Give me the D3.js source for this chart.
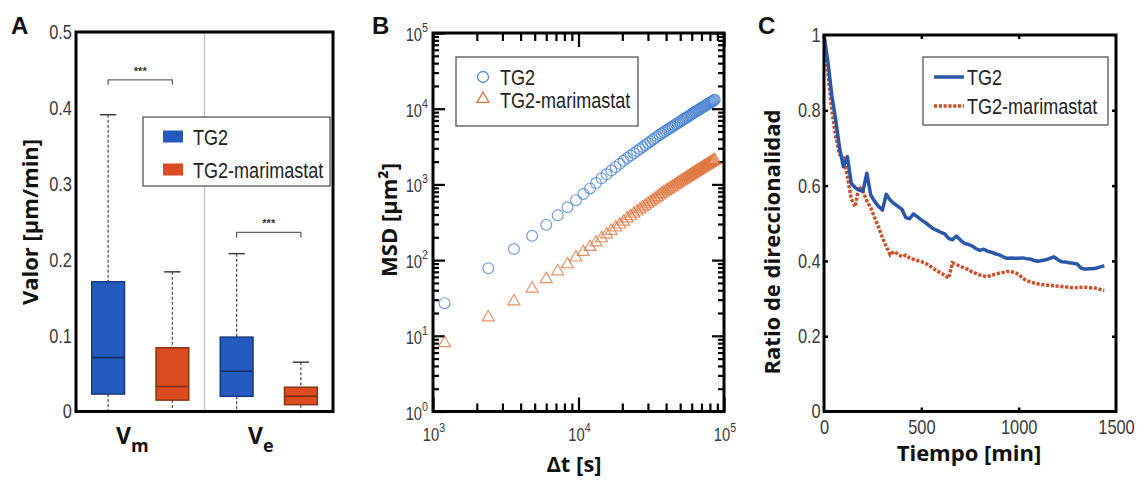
<!DOCTYPE html>
<html>
<head>
<meta charset="utf-8">
<script src="https://cdn.jsdelivr.net/npm/d3@7"></script>
<style>
  html, body { margin: 0; padding: 0; background: #fff; }
  svg { display: block; }
  .tick-label { font-family: 'Liberation Sans', Arial, sans-serif; font-size: 20px; fill: #3a3a3a; }
  .tick-label-log { font-family: 'Liberation Sans', Arial, sans-serif; font-size: 18px; fill: #3a3a3a; }
  .legend-text { font-family: 'Liberation Sans', Arial, sans-serif; font-size: 22px; fill: #222; }
  .axis-title { font-family: 'Open Sans', sans-serif; font-weight: 700; font-size: 22px; fill: #111; }
  .panel-letter { font-family: 'Liberation Sans', Arial, sans-serif; font-weight: 700; font-size: 24px; fill: #111; }
</style>
</head>
<body>
<svg id="fig" width="1138" height="482"></svg>
<script>
// ---------- Panel A: speed box plots ----------
const boxCategories = ["Vm", "Ve"];
const boxGroups = ["TG2", "TG2-marimastat"];
// order: Vm/TG2, Vm/TG2-marimastat, Ve/TG2, Ve/TG2-marimastat
const whiskerLow  = [0.000, 0.000, 0.000, 0.000];
const quartile1   = [0.023, 0.015, 0.020, 0.009];
const medians     = [0.071, 0.033, 0.053, 0.020];
const quartile3   = [0.171, 0.084, 0.098, 0.032];
const whiskerHigh = [0.391, 0.184, 0.208, 0.065];
const sigLevels = [0.437, 0.236];
const sigLabels = ["***", "***"];
const speedTicks = [0, 0.1, 0.2, 0.3, 0.4, 0.5];
const speedTickLabels = ["0", "0.1", "0.2", "0.3", "0.4", "0.5"];

// ---------- Panel B: mean squared displacement ----------
const msdLag = [1200,2400,3600,4800,6000,7200,8400,9600,10800,12000,13200,14400,15600,16800,18000,19200,20400,21600,
  22800,24000,25200,26400,27600,28800,30000,31200,32400,33600,34800,36000,37200,38400,39600,40800,42000,43200,
  44400,45600,46800,48000,49200,50400,51600,52800,54000,55200,56400,57600,58800,60000,61200,62400,63600,64800,
  66000,67200,68400,69600,70800,72000,73200,74400,75600,76800,78000,79200,80400,81600,82800,84000,85200,86400];
const msdTG2 = [27,78,140,209,292,391,500,619,748,885,1040,1203,1359,1522,1691,1867,2048,2234,2405,2581,
  2759,2941,3126,3313,3504,3697,3893,4092,4294,4500,4687,4875,5065,5256,5448,5641,5836,6032,6230,6430,
  6630,6830,7032,7236,7440,7645,7852,8060,8268,8478,8700,8904,9107,9313,9518,9724,9931,10139,10347,10556,
  10768,10976,11190,11399,11613,11823,12037,12250,12466,12682,12898,13100];
const msdMarimastat = [8,17.5,28.5,42,56,71,88,108,128,149,171,194,218,243,269,295,322,355,382,410,
  438,466,496,525,555,585,616,648,679,715,750,780,810,841,872,903,934,966,997,1029,
  1061,1093,1125,1158,1190,1223,1256,1290,1323,1356,1390,1423,1455,1488,1521,1554,1587,1620,1653,1686,
  1720,1754,1788,1821,1855,1889,1923,1957,1992,2026,2061,2095];
const lagMajorTicks = [1e3, 1e4, 1e5];
const lagExponents = ["3", "4", "5"];
const msdMajorTicks = [1e0, 1e1, 1e2, 1e3, 1e4, 1e5];
const msdExponents = ["0", "1", "2", "3", "4", "5"];

// ---------- Panel C: directionality ratio ----------
const timeMin = [0,20,40,60,80,100,120,140,160,180,200,220,240,260,280,300,320,340,360,380,400,420,440,460,480,
  500,520,540,560,580,600,620,640,660,680,700,720,740,760,780,800,820,840,860,880,900,920,940,960,980,1000,
  1020,1040,1060,1080,1100,1120,1140,1160,1180,1200,1220,1240,1260,1280,1300,1320,1340,1360,1380,1400,1420,1440];
const ratioTG2 = [1.000,0.930,0.840,0.775,0.700,0.650,0.677,0.606,0.595,0.588,
  0.585,0.633,0.575,0.558,0.545,0.535,0.577,0.562,0.552,0.545,
  0.537,0.515,0.512,0.525,0.517,0.509,0.502,0.494,0.486,0.481,
  0.476,0.472,0.460,0.456,0.466,0.456,0.447,0.444,0.440,0.433,
  0.428,0.431,0.426,0.423,0.419,0.416,0.411,0.407,0.408,0.407,
  0.407,0.408,0.406,0.405,0.401,0.399,0.401,0.403,0.407,0.411,
  0.404,0.398,0.397,0.395,0.394,0.392,0.381,0.378,0.379,0.379,
  0.381,0.384,0.387];
const ratioMarimastat = [1.000,0.900,0.800,0.730,0.683,0.675,0.625,0.565,0.544,0.597,
  0.585,0.560,0.541,0.515,0.490,0.462,0.438,0.416,0.425,0.418,
  0.411,0.415,0.408,0.404,0.401,0.398,0.394,0.388,0.380,0.374,
  0.368,0.362,0.354,0.395,0.390,0.386,0.381,0.377,0.371,0.367,
  0.363,0.360,0.358,0.362,0.365,0.367,0.369,0.372,0.372,0.369,
  0.364,0.354,0.348,0.344,0.341,0.339,0.337,0.336,0.335,0.334,
  0.333,0.332,0.331,0.330,0.328,0.329,0.330,0.330,0.329,0.329,
  0.327,0.324,0.321];
const timeTicks = [0, 500, 1000, 1500];
const timeTickLabels = ["0", "500", "1000", "1500"];
const ratioTicks = [0, 0.2, 0.4, 0.6, 0.8, 1];
const ratioTickLabels = ["0", "0.2", "0.4", "0.6", "0.8", "1"];

const seriesNames = ["TG2", "TG2-marimastat"];

const colors = {
  boxBlue: "#2459c0", boxBlueEdge: "#17387a",
  boxOrange: "#db4b1f", boxOrangeEdge: "#8a3413",
  markBlue: "#4d86d2", markOrange: "#e0763f",
  lineBlue: "#2b57aa", lineOrange: "#c9522b"
};

// horizontal squeeze that gives the condensed look of the labels
const SQUEEZE = 0.82;

const svg = d3.select("#fig");

function frame(g, box) {
  g.append("rect")
    .attr("x", box.left).attr("y", box.top)
    .attr("width", box.right - box.left).attr("height", box.bottom - box.top)
    .attr("fill", "none").attr("stroke", "#000").attr("stroke-width", 3);
}

// condensed text anchored at (x, y)
function narrowText(parent, x, y, cls, anchor) {
  return parent.append("text").attr("class", cls)
    .attr("transform", `translate(${x},${y}) scale(${SQUEEZE},1)`)
    .attr("text-anchor", anchor || "start");
}

// squeeze the labels that a d3 axis produced
function squeezeAxisText(axisG) {
  axisG.selectAll("text").attr("class", "tick-label").attr("fill", null)
    .attr("transform", `scale(${SQUEEZE},1)`);
}

// ================= Panel A =================
(function () {
  const box = { left: 76, right: 333, top: 32, bottom: 411.5 };
  const g = svg.append("g");
  const y = d3.scaleLinear().domain([0, 0.5]).range([box.bottom, box.top]);
  const xCat = d3.scaleBand().domain(boxCategories).range([box.left, box.right]);
  const xGrp = d3.scaleBand().domain(boxGroups).range([0, xCat.bandwidth()])
    .paddingInner(0.49).paddingOuter(0.245);

  // divider between the two speed categories
  g.append("line")
    .attr("x1", xCat("Ve")).attr("x2", xCat("Ve"))
    .attr("y1", box.top).attr("y2", box.bottom)
    .attr("stroke", "#c9c9c9").attr("stroke-width", 1.5);

  const stats = boxCategories.flatMap((c, ci) => boxGroups.map((s, si) => {
    const i = ci * 2 + si;
    return { cat: c, grp: s, lo: whiskerLow[i], q1: quartile1[i], med: medians[i], q3: quartile3[i], hi: whiskerHigh[i] };
  }));

  const bw = xGrp.bandwidth();
  const item = g.selectAll("g.box").data(stats).join("g").attr("class", "box")
    .attr("transform", d => `translate(${xCat(d.cat) + xGrp(d.grp)},0)`);

  // whiskers
  item.append("line").attr("x1", bw / 2).attr("x2", bw / 2)
    .attr("y1", d => y(d.hi)).attr("y2", d => y(d.q3))
    .attr("stroke", "#555").attr("stroke-width", 1.3).attr("stroke-dasharray", "3,2");
  item.append("line").attr("x1", bw / 2).attr("x2", bw / 2)
    .attr("y1", d => y(d.q1)).attr("y2", d => y(d.lo))
    .attr("stroke", "#555").attr("stroke-width", 1.3).attr("stroke-dasharray", "3,2");
  item.append("line").attr("x1", bw / 4).attr("x2", bw * 3 / 4)
    .attr("y1", d => y(d.hi)).attr("y2", d => y(d.hi))
    .attr("stroke", "#333").attr("stroke-width", 1.4);
  item.append("line").attr("x1", bw / 4).attr("x2", bw * 3 / 4)
    .attr("y1", d => y(d.lo)).attr("y2", d => y(d.lo))
    .attr("stroke", "#333").attr("stroke-width", 1.4);

  // boxes and medians
  item.append("rect").attr("x", 0).attr("width", bw)
    .attr("y", d => y(d.q3)).attr("height", d => y(d.q1) - y(d.q3))
    .attr("fill", d => d.grp === "TG2" ? colors.boxBlue : colors.boxOrange)
    .attr("stroke", d => d.grp === "TG2" ? colors.boxBlueEdge : colors.boxOrangeEdge)
    .attr("stroke-width", 1.5);
  item.append("line").attr("x1", 0).attr("x2", bw)
    .attr("y1", d => y(d.med)).attr("y2", d => y(d.med))
    .attr("stroke", d => d.grp === "TG2" ? "#132c5e" : "#7a2a0e").attr("stroke-width", 1.6);

  // significance brackets
  boxCategories.forEach((c, ci) => {
    const x1 = xCat(c) + xGrp(boxGroups[0]) + bw / 2;
    const x2 = xCat(c) + xGrp(boxGroups[1]) + bw / 2;
    const yy = y(sigLevels[ci]);
    g.append("path")
      .attr("d", `M${x1},${yy + 5}V${yy}H${x2}V${yy + 5}`)
      .attr("fill", "none").attr("stroke", "#666").attr("stroke-width", 1.3);
    g.append("text").attr("x", (x1 + x2) / 2).attr("y", yy - 5)
      .attr("text-anchor", "middle")
      .style("font-family", "'Liberation Sans', Arial, sans-serif")
      .style("font-size", "11px").style("font-weight", "700").style("fill", "#333")
      .text(sigLabels[ci]);
  });

  // y axis
  const ax = g.append("g").attr("transform", `translate(${box.left},0)`)
    .call(d3.axisLeft(y).tickValues(speedTicks).tickSize(0).tickPadding(5)
      .tickFormat((d, i) => speedTickLabels[i]));
  ax.select(".domain").remove();
  squeezeAxisText(ax);

  frame(g, box);

  // category labels with subscripts
  const subs = { Vm: "m", Ve: "e" };
  boxCategories.forEach(c => {
    const t = g.append("text").attr("class", "axis-title")
      .attr("x", xCat(c) + xCat.bandwidth() / 2 - 8).attr("y", 444)
      .attr("text-anchor", "middle");
    t.append("tspan").style("font-size", "23px").text("V");
    t.append("tspan").attr("dy", 8).style("font-size", "18px").text(subs[c]);
  });

  // legend
  const lg = g.append("g");
  lg.append("rect").attr("x", 143).attr("y", 117).attr("width", 187).attr("height", 69)
    .attr("fill", "#fff").attr("stroke", "#555").attr("stroke-width", 1.3);
  seriesNames.forEach((s, i) => {
    const cy = 136.5 + i * 33;
    lg.append("rect").attr("x", 163).attr("y", cy - 6).attr("width", 20).attr("height", 12)
      .attr("fill", i === 0 ? colors.boxBlue : colors.boxOrange);
    narrowText(lg, 193, cy + 8, "legend-text").text(s);
  });

  g.append("text").attr("class", "axis-title").attr("transform", "translate(29,222) rotate(-90)")
    .attr("text-anchor", "middle").attr("dominant-baseline", "central").text("Valor [µm/min]");
  g.append("text").attr("class", "panel-letter").attr("x", 11).attr("y", 34).text("A");
})();

// ================= Panel B =================
(function () {
  const box = { left: 433, right: 724, top: 33, bottom: 411.5 };
  const g = svg.append("g");
  const x = d3.scaleLog().domain([1e3, 1e5]).range([box.left, box.right]);
  const y = d3.scaleLog().domain([1e0, 1e5]).range([box.bottom, box.top]);

  const minor = (lo, hi) => {
    const out = [];
    for (let e = lo; e < hi; e++) for (let m = 2; m <= 9; m++) out.push(m * Math.pow(10, e));
    return out;
  };
  const xMinor = minor(3, 5), yMinor = minor(0, 5);

  const tickAxis = (axisFn, scale, values, len, transform) => {
    const a = g.append("g").attr("transform", transform)
      .call(axisFn(scale).tickValues(values).tickSizeInner(-len).tickSizeOuter(0).tickFormat(""));
    a.select(".domain").remove();
    a.selectAll("line").attr("stroke", "#000").attr("stroke-width", 2.2);
  };
  tickAxis(d3.axisBottom, x, lagMajorTicks, 14, `translate(0,${box.bottom})`);
  tickAxis(d3.axisBottom, x, xMinor, 8, `translate(0,${box.bottom})`);
  tickAxis(d3.axisTop, x, lagMajorTicks, 14, `translate(0,${box.top})`);
  tickAxis(d3.axisTop, x, xMinor, 8, `translate(0,${box.top})`);
  tickAxis(d3.axisLeft, y, msdMajorTicks, 12, `translate(${box.left},0)`);
  tickAxis(d3.axisLeft, y, yMinor, 6, `translate(${box.left},0)`);
  tickAxis(d3.axisRight, y, msdMajorTicks, 12, `translate(${box.right},0)`);
  tickAxis(d3.axisRight, y, yMinor, 6, `translate(${box.right},0)`);

  // power-of-ten labels
  lagMajorTicks.forEach((v, i) => {
    const t = narrowText(g, x(v) + 1, 441, "tick-label-log", "middle");
    t.append("tspan").text("10");
    t.append("tspan").attr("dy", -9).style("font-size", "13px").text(lagExponents[i]);
  });
  msdMajorTicks.forEach((v, i) => {
    const t = narrowText(g, box.left - 5, y(v) + 8, "tick-label-log", "end");
    t.append("tspan").text("10");
    t.append("tspan").attr("dy", -9).style("font-size", "13px").text(msdExponents[i]);
  });

  // markers
  g.append("g").selectAll("path").data(msdLag.map((d, i) => [d, msdMarimastat[i]])).join("path")
    .attr("transform", d => `translate(${x(d[0])},${y(d[1])})`)
    .attr("d", d3.symbol(d3.symbolTriangle, 62)())
    .attr("fill", "none").attr("stroke", colors.markOrange).attr("stroke-width", 1.2).attr("stroke-opacity", 0.8);
  g.append("g").selectAll("circle").data(msdLag.map((d, i) => [d, msdTG2[i]])).join("circle")
    .attr("cx", d => x(d[0])).attr("cy", d => y(d[1])).attr("r", 5.4)
    .attr("fill", "none").attr("stroke", colors.markBlue).attr("stroke-width", 1.2).attr("stroke-opacity", 0.8);

  frame(g, box);

  // legend
  const lg = g.append("g");
  lg.append("rect").attr("x", 456).attr("y", 57).attr("width", 182).attr("height", 69)
    .attr("fill", "#fff").attr("stroke", "#555").attr("stroke-width", 1.3);
  lg.append("circle").attr("cx", 483).attr("cy", 77).attr("r", 5.5)
    .attr("fill", "none").attr("stroke", colors.markBlue).attr("stroke-width", 1.3);
  lg.append("path").attr("transform", "translate(483,99)").attr("d", d3.symbol(d3.symbolTriangle, 62)())
    .attr("fill", "none").attr("stroke", colors.markOrange).attr("stroke-width", 1.3);
  seriesNames.forEach((s, i) => {
    narrowText(lg, 500, 77 + i * 23 + 8, "legend-text").text(s);
  });

  g.append("text").attr("class", "axis-title").attr("transform", "translate(388,220) rotate(-90)")
    .attr("text-anchor", "middle").attr("dominant-baseline", "central").text("MSD [µm²]");
  g.append("text").attr("class", "axis-title").attr("x", 574).attr("y", 463)
    .attr("text-anchor", "middle").attr("dominant-baseline", "central").text("Δt [s]");
  g.append("text").attr("class", "panel-letter").attr("x", 372).attr("y", 34).text("B");
})();

// ================= Panel C =================
(function () {
  const box = { left: 824, right: 1116, top: 35, bottom: 411.5 };
  const g = svg.append("g");
  const x = d3.scaleLinear().domain([0, 1500]).range([box.left, box.right]);
  const y = d3.scaleLinear().domain([0, 1]).range([box.bottom, box.top]);

  const inner = [500, 1000], innerY = [0.2, 0.4, 0.6, 0.8];
  const tickAxis = (axisFn, scale, values, transform) => {
    const a = g.append("g").attr("transform", transform)
      .call(axisFn(scale).tickValues(values).tickSizeInner(-4).tickSizeOuter(0).tickFormat(""));
    a.select(".domain").remove();
    a.selectAll("line").attr("stroke", "#000").attr("stroke-width", 2.5);
  };
  tickAxis(d3.axisBottom, x, inner, `translate(0,${box.bottom})`);
  tickAxis(d3.axisTop, x, inner, `translate(0,${box.top})`);
  tickAxis(d3.axisLeft, y, innerY, `translate(${box.left},0)`);
  tickAxis(d3.axisRight, y, innerY, `translate(${box.right},0)`);

  const ax = g.append("g").attr("transform", `translate(0,${box.bottom})`)
    .call(d3.axisBottom(x).tickValues(timeTicks).tickSize(0).tickPadding(8)
      .tickFormat((d, i) => timeTickLabels[i]));
  ax.select(".domain").remove();
  squeezeAxisText(ax);
  const ay = g.append("g").attr("transform", `translate(${box.left},0)`)
    .call(d3.axisLeft(y).tickValues(ratioTicks).tickSize(0).tickPadding(4)
      .tickFormat((d, i) => ratioTickLabels[i]));
  ay.select(".domain").remove();
  squeezeAxisText(ay);

  const line = d3.line().x(d => x(d[0])).y(d => y(d[1]));
  g.append("path").datum(timeMin.map((t, i) => [t, ratioMarimastat[i]]))
    .attr("d", line).attr("fill", "none").attr("stroke", colors.lineOrange)
    .attr("stroke-width", 3.5).attr("stroke-dasharray", "3.2,1.6");
  g.append("path").datum(timeMin.map((t, i) => [t, ratioTG2[i]]))
    .attr("d", line).attr("fill", "none").attr("stroke", colors.lineBlue)
    .attr("stroke-width", 3.5).attr("stroke-linejoin", "round");

  frame(g, box);

  const lg = g.append("g");
  lg.append("rect").attr("x", 923).attr("y", 57).attr("width", 185).attr("height", 68)
    .attr("fill", "#fff").attr("stroke", "#555").attr("stroke-width", 1.3);
  lg.append("line").attr("x1", 934).attr("x2", 964).attr("y1", 77).attr("y2", 77)
    .attr("stroke", colors.lineBlue).attr("stroke-width", 3.5);
  lg.append("line").attr("x1", 934).attr("x2", 964).attr("y1", 106).attr("y2", 106)
    .attr("stroke", colors.lineOrange).attr("stroke-width", 3.5).attr("stroke-dasharray", "3.2,1.6");
  seriesNames.forEach((s, i) => {
    narrowText(lg, 967, 77 + i * 29 + 8, "legend-text").text(s);
  });

  g.append("text").attr("class", "axis-title").attr("transform", "translate(771,242) rotate(-90)")
    .attr("text-anchor", "middle").attr("dominant-baseline", "central").text("Ratio de direccionalidad");
  g.append("text").attr("class", "axis-title").attr("x", 969).attr("y", 452)
    .attr("text-anchor", "middle").attr("dominant-baseline", "central").text("Tiempo [min]");
  g.append("text").attr("class", "panel-letter").attr("x", 758).attr("y", 34).text("C");
})();
</script>
</body>
</html>
